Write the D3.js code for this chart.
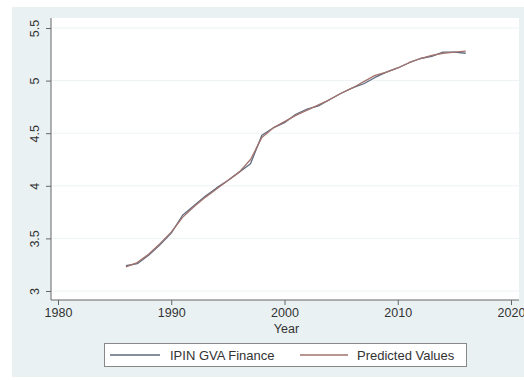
<!DOCTYPE html>
<html><head><meta charset="utf-8">
<script src="https://cdn.jsdelivr.net/npm/d3@7"></script>
<style>body{margin:0;background:#fff}svg{display:block}text{font-family:"Liberation Sans",Arial,sans-serif;fill:#333}</style>
</head><body>
<script>
const years = d3.range(1986, 2017);
const actual = [3.24,3.26,3.34,3.44,3.55,3.72,3.81,3.90,3.98,4.05,4.13,4.21,4.48,4.55,4.60,4.68,4.73,4.76,4.82,4.88,4.93,4.97,5.03,5.08,5.12,5.17,5.21,5.23,5.27,5.27,5.26];
const predicted = [3.23,3.27,3.35,3.45,3.56,3.70,3.80,3.89,3.97,4.05,4.13,4.25,4.46,4.55,4.61,4.67,4.72,4.77,4.82,4.88,4.93,4.99,5.05,5.08,5.12,5.17,5.21,5.24,5.26,5.27,5.28];
const xTicks = [1980,1990,2000,2010,2020];
const yTicks = [3,3.5,4,4.5,5,5.5];
const yTickLabels = ["3","3.5","4","4.5","5","5.5"];
const seriesNames = ["IPIN GVA Finance","Predicted Values"];
const colors = ["#5d6a80","#a2726d"];

const W=524,H=380;
const svg=d3.select("body").append("svg").attr("width",W).attr("height",H);
// outer background
svg.append("rect").attr("x",12).attr("y",7).attr("width",512).attr("height",370).attr("fill","#eaf1f3");
// plot region
const L=51,R=519,T=18,B=300;
svg.append("rect").attr("x",L).attr("y",T).attr("width",R-L).attr("height",B-T).attr("fill","#fff");

const x=d3.scaleLinear().domain([1980,2020]).range([58,511]);
const y=d3.scaleLinear().domain([3,5.5]).range([291,28]);

// grid
svg.append("g").selectAll("line").data(yTicks).join("line")
  .attr("x1",L).attr("x2",R).attr("y1",d=>y(d)).attr("y2",d=>y(d))
  .attr("stroke","#edf3f5").attr("stroke-width",1);

// axes
const yAxis=svg.append("g").attr("transform",`translate(${L},0)`)
  .call(d3.axisLeft(y).tickValues(yTicks).tickSize(5).tickFormat((d,i)=>yTickLabels[i]));
yAxis.select(".domain").attr("d",`M0,${T}V${B}`).attr("stroke","#666");
yAxis.selectAll(".tick line").attr("stroke","#666");
yAxis.selectAll(".tick text").attr("font-size",12.5).attr("fill","#333")
  .attr("text-anchor","middle").attr("x",0).attr("dy",0)
  .attr("transform","translate(-12,0) rotate(-90)");

const xAxis=svg.append("g").attr("transform",`translate(0,${B})`)
  .call(d3.axisBottom(x).tickValues(xTicks).tickSize(5).tickFormat(d3.format("d")));
xAxis.select(".domain").attr("d",`M${L},0H${R}`).attr("stroke","#666");
xAxis.selectAll(".tick line").attr("stroke","#666");
xAxis.selectAll(".tick text").attr("font-size",12.5).attr("fill","#333").attr("y",8).attr("dy","0.71em");

svg.append("text").attr("x",x(2000)+2).attr("y",333).attr("text-anchor","middle")
  .attr("font-size",12.5).text("Year");

// lines
const line=d3.line().x((d,i)=>x(years[i])).y(d=>y(d));
[actual,predicted].forEach((s,k)=>{
  svg.append("path").datum(s).attr("d",line).attr("fill","none")
    .attr("stroke",colors[k]).attr("stroke-width",1.3).attr("stroke-linejoin","round");
});

// legend
svg.append("rect").attr("x",104.5).attr("y",343.5).attr("width",362).attr("height",23)
  .attr("fill","#fff").attr("stroke","#888");
const keys=[{x1:110,x2:160,tx:170},{x1:300,x2:348,tx:357}];
keys.forEach((k,i)=>{
  svg.append("line").attr("x1",k.x1).attr("x2",k.x2).attr("y1",355).attr("y2",355)
    .attr("stroke",colors[i]).attr("stroke-width",1.3);
  svg.append("text").attr("x",k.tx).attr("y",360).attr("font-size",13).text(seriesNames[i]);
});
</script>
</body></html>
